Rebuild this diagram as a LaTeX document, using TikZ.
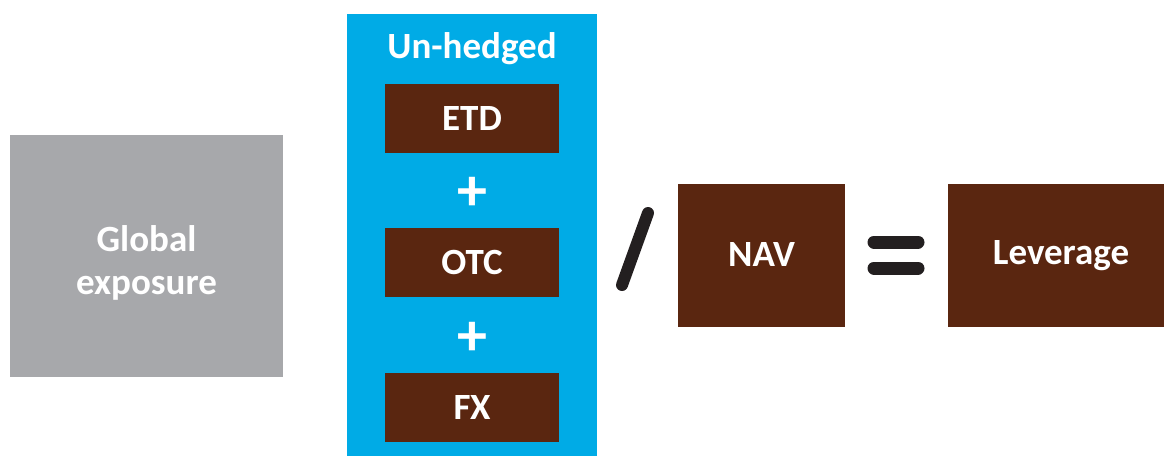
\documentclass[tikz,border=0pt]{standalone}
\usepackage{fontspec}
\setmainfont{Carlito}
\definecolor{bluebg}{HTML}{00ABE6}
\definecolor{brownbox}{HTML}{5A2610}
\definecolor{graybox}{HTML}{A7A8AB}
\definecolor{sym}{HTML}{231F20}
\tikzset{
  lbl/.style={text=white, font=\fontsize{37}{43}\selectfont\bfseries, align=center},
  plussign/.style={text=white, font=\fontsize{60}{60}\selectfont\bfseries},
  brownrect/.style={fill=brownbox, draw=none},
  symline/.style={draw=sym, line cap=round},
}
\begin{document}
\begin{tikzpicture}[x=1pt,y=-1pt]
\useasboundingbox (0,0) rectangle (1166,456);
% gray box
\fill[graybox] (10,135) rectangle (283,377);
\node[lbl] (global) at (146.5,263) {Global\\exposure};
% blue panel
\fill[bluebg] (347,14) rectangle (597,456);
\node[lbl] (unhedged) at (472,49) {Un-hedged};
\fill[brownrect] (385,84) rectangle (559,153);
\node[lbl] (etd) at (472,118.5) {ETD};
\node[plussign] (plus1) at (472,194) {+};
\fill[brownrect] (385,228) rectangle (559,297);
\node[lbl] (otc) at (472,262.5) {OTC};
\node[plussign] (plus2) at (472,339) {+};
\fill[brownrect] (385,373) rectangle (559,442);
\node[lbl] (fx) at (472,407.5) {FX};
% slash
\draw[symline, line width=12pt] (622,285) -- (648,213);
% NAV
\fill[brownrect] (678,184) rectangle (845,327);
\node[lbl] (nav) at (761.5,254) {NAV};
% equals
\draw[symline, line width=13pt] (874,242) -- (918,242);
\draw[symline, line width=13pt] (874,268) -- (918,268);
% Leverage
\fill[brownrect] (948,184) rectangle (1164,327);
\node[lbl] (lev) at (1061,256) {Leverage};
\end{tikzpicture}
\end{document}
